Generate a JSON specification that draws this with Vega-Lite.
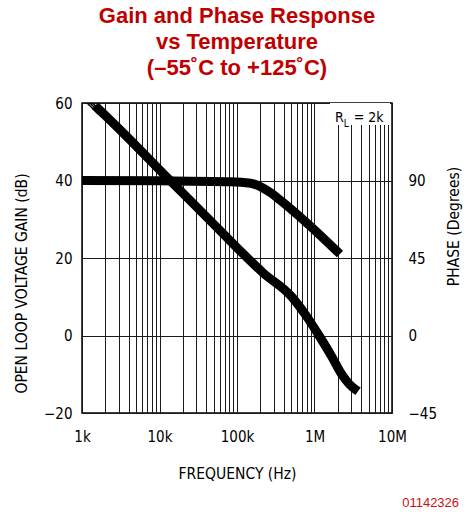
{
  "$schema": "https://vega.github.io/schema/vega-lite/v6.json",
  "width": 310,
  "height": 310,
  "autosize": "none",
  "padding": {"left": 82, "top": 103, "right": 76, "bottom": 99},
  "background": "white",
  "config": {
    "view": {"stroke": "#000", "strokeWidth": 1.5},
    "font": "Liberation Sans Narrow, DejaVu Sans Condensed, Liberation Sans, sans-serif"
  },
  "title": {
    "text": ["Gain and Phase Response", "vs Temperature", "(–55˚C to +125˚C)"],
    "font": "Liberation Sans, Arial, sans-serif",
    "fontSize": 22,
    "fontWeight": "bold",
    "color": "#c00000",
    "anchor": "middle",
    "frame": "group",
    "lineHeight": 26,
    "offset": 16
  },
  "datasets": {
    "gain": [
      {"f": 1480, "db": 59.3},
      {"f": 3090, "db": 53.1},
      {"f": 13700, "db": 40.0},
      {"f": 41000, "db": 30.5},
      {"f": 103000, "db": 22.4},
      {"f": 216000, "db": 16.2},
      {"f": 508000, "db": 10.0},
      {"f": 793000, "db": 4.9},
      {"f": 1143000, "db": 0.0},
      {"f": 1667000, "db": -5.4},
      {"f": 2244000, "db": -10.0},
      {"f": 2800000, "db": -12.5},
      {"f": 3640000, "db": -14.4}
    ],
    "thin": [
      {"s": "a", "f": 1100, "db": 60.5},
      {"s": "a", "f": 1650, "db": 57.0},
      {"s": "b", "f": 1200, "db": 60.5},
      {"s": "b", "f": 1700, "db": 57.4},
      {"s": "c", "f": 1300, "db": 60.5},
      {"s": "c", "f": 1750, "db": 57.8}
    ],
    "phase": [
      {"f": 1000, "deg": 90},
      {"f": 10000, "deg": 89.8},
      {"f": 80000, "deg": 89.3},
      {"f": 150000, "deg": 88.4},
      {"f": 216000, "deg": 85.7},
      {"f": 280000, "deg": 82.5},
      {"f": 359000, "deg": 78.7},
      {"f": 800000, "deg": 65.3},
      {"f": 2130000, "deg": 47.3}
    ],
    "box": [
      {"f": 1585000, "f2": 9420000, "db": 60, "db2": 54.3}
    ],
    "labels": [
      {"t": "R", "f": 1840000, "db": 55.1, "size": 14},
      {"t": "L", "f": 2380000, "db": 53.8, "size": 10},
      {"t": "= 2k", "f": 3200000, "db": 55.1, "size": 14}
    ],
    "footer": [
      {"t": "01142326", "f": 73300000, "db": -44.3}
    ]
  },
  "layer": [
    {
      "layer": [
        {
          "data": {"name": "box"},
          "mark": {"type": "rect", "fill": "white", "stroke": null},
          "encoding": {
            "x": {
              "field": "f", "type": "quantitative",
              "scale": {"type": "log", "domain": [1000, 10000000], "nice": false},
              "axis": {
                "orient": "bottom",
                "values": [1000,2000,3000,4000,5000,6000,7000,8000,9000,10000,20000,30000,40000,50000,60000,70000,80000,90000,100000,200000,300000,400000,500000,600000,700000,800000,900000,1000000,2000000,3000000,4000000,5000000,6000000,7000000,8000000,9000000,10000000],
                "labelExpr": "datum.value==1000?'1k':datum.value==10000?'10k':datum.value==100000?'100k':datum.value==1000000?'1M':datum.value==10000000?'10M':''",
                "grid": true, "gridColor": "#1a1a1a", "gridWidth": 1, "gridOpacity": 1,
                "ticks": false, "domain": false,
                "labelFontSize": 15, "labelColor": "#000", "labelPadding": 16, "labelFlush": false,
                "title": "FREQUENCY (Hz)", "titleFontSize": 15.5, "titleFontWeight": "normal", "titleColor": "#000", "titlePadding": 22
              }
            },
            "x2": {"field": "f2"},
            "y": {
              "field": "db", "type": "quantitative",
              "scale": {"domain": [-20, 60], "nice": false},
              "axis": {
                "orient": "left",
                "values": [-20,-10,0,10,20,30,40,50,60],
                "labelExpr": "datum.value % 20 == 0 ? datum.label : ''",
                "grid": true, "gridColor": "#1a1a1a", "gridWidth": 1, "gridOpacity": 1,
                "ticks": false, "domain": false,
                "labelFontSize": 15, "labelColor": "#000", "labelPadding": 10,
                "title": "OPEN LOOP VOLTAGE GAIN (dB)", "titleFontSize": 15.5, "titleFontWeight": "normal", "titleColor": "#000",
                "titleX": -61, "titleY": 180, "titleBaseline": "middle", "titleAngle": 270
              }
            },
            "y2": {"field": "db2"}
          }
        },
        {
          "data": {"name": "thin"},
          "mark": {"type": "line", "stroke": "#000", "strokeWidth": 1.5, "clip": true},
          "encoding": {
            "x": {"field": "f", "type": "quantitative"},
            "y": {"field": "db", "type": "quantitative"},
            "detail": {"field": "s"}
          }
        },
        {
          "data": {"name": "gain"},
          "mark": {"type": "line", "stroke": "#000", "strokeWidth": 9, "interpolate": "monotone", "strokeCap": "butt", "clip": true},
          "encoding": {
            "x": {"field": "f", "type": "quantitative"},
            "y": {"field": "db", "type": "quantitative"}
          }
        },
        {
          "data": {"name": "labels"},
          "mark": {"type": "text", "align": "left", "baseline": "alphabetic", "color": "#000"},
          "encoding": {
            "x": {"field": "f", "type": "quantitative"},
            "y": {"field": "db", "type": "quantitative"},
            "text": {"field": "t"},
            "size": {"field": "size", "type": "quantitative", "scale": null}
          }
        },
        {
          "data": {"name": "footer"},
          "mark": {"type": "text", "align": "right", "baseline": "alphabetic", "color": "#cc1111", "fontSize": 13, "font": "Liberation Sans, Arial, sans-serif", "clip": false},
          "encoding": {
            "x": {"field": "f", "type": "quantitative"},
            "y": {"field": "db", "type": "quantitative"},
            "text": {"field": "t"}
          }
        }
      ]
    },
    {
      "data": {"name": "phase"},
      "mark": {"type": "line", "stroke": "#000", "strokeWidth": 9, "interpolate": "monotone", "strokeCap": "butt", "clip": true},
      "encoding": {
        "x": {"field": "f", "type": "quantitative"},
        "y": {
          "field": "deg", "type": "quantitative",
          "scale": {"domain": [-45, 135], "nice": false},
          "axis": {
            "orient": "right",
            "values": [-45, 0, 45, 90],
            "grid": false, "ticks": false, "domain": false,
            "labelFontSize": 15, "labelColor": "#000", "labelPadding": 16,
            "title": "PHASE (Degrees)", "titleFontSize": 15.5, "titleFontWeight": "normal", "titleColor": "#000",
            "titleAngle": 270, "titleX": 61, "titleY": 123, "titleBaseline": "middle"
          }
        }
      }
    }
  ],
  "resolve": {"scale": {"y": "independent"}}
}
